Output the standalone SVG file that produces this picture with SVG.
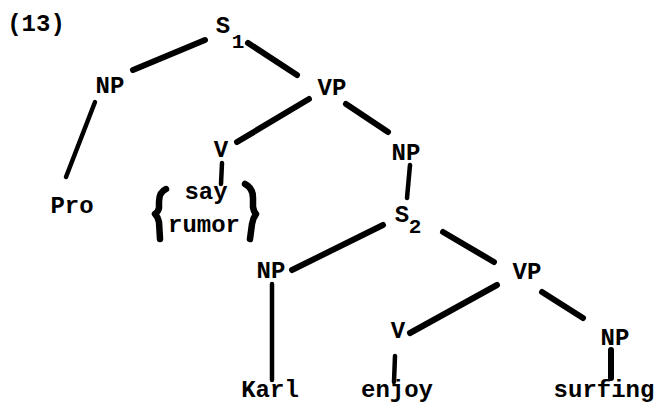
<svg xmlns="http://www.w3.org/2000/svg" width="660" height="410" viewBox="0 0 660 410">
<style>
text{font-family:"Liberation Mono","Courier New",monospace;font-weight:bold;font-size:24px;fill:#000;text-anchor:middle}
.sub{font-size:21px}
.e{stroke:#000;stroke-width:6;stroke-linecap:round;fill:none}
.t{stroke-width:4.5}
.br{stroke:#000;stroke-width:6.5;stroke-linecap:round;stroke-linejoin:round;fill:none}
</style>
<rect width="660" height="410" fill="#fff"/>
<g id="label"><text x="36" y="31">(13)</text></g>
<g id="connectors">
<line class="e" x1="205" y1="40" x2="133" y2="70"/>
<line class="e" x1="248" y1="43" x2="297" y2="75"/>
<line class="e t" x1="95" y1="102" x2="66" y2="177"/>
<line class="e" x1="309" y1="99" x2="237" y2="142"/>
<line class="e" x1="346" y1="104" x2="388" y2="132"/>
<line class="e t" x1="222" y1="163" x2="221" y2="184"/>
<line class="e t" x1="410" y1="165" x2="407" y2="198"/>
<line class="e" x1="383" y1="225" x2="292" y2="270"/>
<line class="e" x1="443" y1="232" x2="494" y2="262"/>
<line class="e" x1="497" y1="285" x2="410" y2="333"/>
<line class="e" x1="542" y1="292" x2="583" y2="318"/>
<line class="e t" x1="272" y1="284" x2="272" y2="380"/>
<line class="e t" x1="395" y1="356" x2="394" y2="382"/>
<line class="e" x1="611" y1="350" x2="611" y2="378"/>
</g>
<g id="S1"><text x="223" y="33">S</text><text class="sub" x="238" y="48">1</text></g>
<g id="NP1"><text x="110" y="93">NP</text></g>
<g id="VP1"><text x="332" y="95">VP</text></g>
<g id="Pro"><text x="72" y="213">Pro</text></g>
<g id="V1"><text x="221" y="157">V</text></g>
<g id="say-rumor">
<text x="206" y="199">say</text>
<text x="204" y="232">rumor</text>
<path class="br" d="M166,189 Q159,192 159,202 L159,208 Q158,212 155,214 Q158,217 159,222 L160,239"/>
<path class="br" d="M245,184 Q253,188 253,198 L253,207 Q254,212 256,214 Q253,218 252,224 L250,239"/>
</g>
<g id="NP2"><text x="406" y="160">NP</text></g>
<g id="S2"><text x="402" y="222">S</text><text class="sub" x="415" y="233">2</text></g>
<g id="NP3"><text x="271" y="278">NP</text></g>
<g id="VP2"><text x="527" y="279">VP</text></g>
<g id="Karl"><text x="270" y="397">Karl</text></g>
<g id="V2"><text x="398" y="338">V</text></g>
<g id="enjoy"><text x="397" y="397">enjoy</text></g>
<g id="NP4"><text x="615" y="345">NP</text></g>
<g id="surfing"><text x="604" y="397">surfing</text></g>
</svg>
